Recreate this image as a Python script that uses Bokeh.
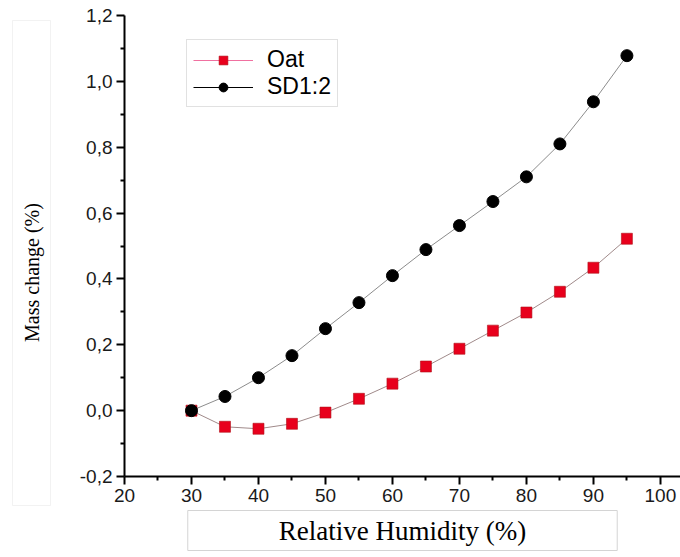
import math
from bokeh.plotting import figure
from bokeh.layouts import row
from bokeh.models import (Range1d, FixedTicker, CustomJSTickFormatter, Legend, LegendItem,
                          Title, Label, BoxAnnotation, ColumnDataSource)
from bokeh.embed import file_html
from bokeh.resources import INLINE

# ---- data ----
rh = [30, 35, 40, 45, 50, 55, 60, 65, 70, 75, 80, 85, 90, 95]
oat = [0.0, -0.049, -0.055, -0.040, -0.006, 0.036, 0.082, 0.134, 0.188, 0.243, 0.298, 0.361, 0.434, 0.522]
sd12 = [0.0, 0.043, 0.100, 0.167, 0.249, 0.328, 0.410, 0.489, 0.562, 0.635, 0.710, 0.810, 0.938, 1.078]

x_major = [20, 30, 40, 50, 60, 70, 80, 90, 100]
x_minor = [25, 35, 45, 55, 65, 75, 85, 95]
y_major = [-0.2, 0.0, 0.2, 0.4, 0.6, 0.8, 1.0, 1.2]
y_minor = [-0.1, 0.1, 0.3, 0.5, 0.7, 0.9, 1.1]

series_names = ["Oat", "SD1:2"]
x_title = "Relative Humidity (%)"
y_title = "Mass change (%)"

W, H = 680, 557
LEFT_W = 60

# ---- narrow panel holding the boxed y-axis title ----
pl = figure(width=LEFT_W, height=H, output_backend="svg", toolbar_location=None,
            x_range=Range1d(0, LEFT_W), y_range=Range1d(0, H),
            x_axis_type=None, y_axis_type=None, min_border=0)
pl.frame_align = False
pl.outline_line_color = None
pl.background_fill_color = "white"
pl.border_fill_color = "white"
pl.add_layout(BoxAnnotation(left=12, right=50, bottom=H - 505, top=H - 20,
                            left_units="screen", right_units="screen",
                            bottom_units="screen", top_units="screen",
                            fill_alpha=0, line_color="#d4d4d4", line_width=1))
pl.add_layout(Label(x=31, y=H - 272, x_units="screen", y_units="screen", text=y_title,
                    angle=math.pi / 2, text_align="center", text_baseline="middle",
                    text_font="Liberation Serif", text_font_size="20px", text_color="black"))

# ---- main plot ----
p = figure(width=W - LEFT_W, height=H, output_backend="svg", toolbar_location=None,
           x_range=Range1d(20, 103), y_range=Range1d(-0.2, 1.2),
           min_border_left=124 - LEFT_W, min_border_right=0, min_border_top=15, min_border_bottom=81)
p.frame_align = False
p.outline_line_color = None
p.xgrid.visible = False
p.ygrid.visible = False
p.background_fill_color = "white"
p.border_fill_color = "white"

p.xaxis.ticker = FixedTicker(ticks=x_major, minor_ticks=x_minor)
p.yaxis.ticker = FixedTicker(ticks=y_major, minor_ticks=y_minor)
p.yaxis.formatter = CustomJSTickFormatter(code="return tick.toFixed(1).replace('.', ',');")
for ax in (p.xaxis[0], p.yaxis[0]):
    ax.axis_line_width = 2
    ax.axis_line_color = "black"
    ax.major_tick_line_width = 2
    ax.major_tick_line_color = "black"
    ax.minor_tick_line_width = 2
    ax.minor_tick_line_color = "black"
    ax.major_tick_out = 8
    ax.major_tick_in = 0
    ax.minor_tick_out = 4
    ax.minor_tick_in = 0
    ax.major_label_text_font = "Liberation Sans"
    ax.major_label_text_font_size = "19px"
    ax.major_label_text_color = "#1a1a1a"
    ax.major_label_standoff = 4

# data lines (thin gray)
p.line(rh, oat, line_color="#a08a8a", line_width=1)
p.line(rh, sd12, line_color="#8c8c8c", line_width=1)

# legend-only line glyphs
nan_src = ColumnDataSource(data=dict(x=[float("nan")], y=[float("nan")]))
leg_oat_line = p.line("x", "y", source=nan_src, line_color="#f070a0", line_width=1.2)
leg_sd_line = p.line("x", "y", source=nan_src, line_color="black", line_width=1.2)

r_oat = p.scatter(rh, oat, marker="square", size=11, fill_color="#e8001c", line_color="#b0101a", line_width=0.6)
r_sd = p.scatter(rh, sd12, marker="circle", size=12, fill_color="black", line_color="black")

legend = Legend(items=[LegendItem(label=series_names[0], renderers=[leg_oat_line, r_oat]),
                       LegendItem(label=series_names[1], renderers=[leg_sd_line, r_sd])],
                location=(62, 369))
legend.label_text_font = "Liberation Sans"
legend.label_text_font_size = "23px"
legend.label_text_color = "black"
legend.padding = 6
legend.margin = 0
legend.spacing = 0
legend.glyph_width = 60
legend.glyph_height = 22
legend.label_height = 22
legend.label_standoff = 14
legend.border_line_color = "#c4c4c4"
legend.border_line_width = 1
legend.background_fill_color = "white"
legend.background_fill_alpha = 1
p.add_layout(legend, "center")

xt = Title(text=x_title, align="center", standoff=8,
           text_font="Liberation Serif", text_font_size="27px", text_color="black",
           text_font_style="normal",
           border_line_color="#d4d4d4", border_line_width=1, padding=(91, 5))
p.add_layout(xt, "below")

layout = row(pl, p, spacing=0)
open("out.html", "w").write(file_html(layout, INLINE))
